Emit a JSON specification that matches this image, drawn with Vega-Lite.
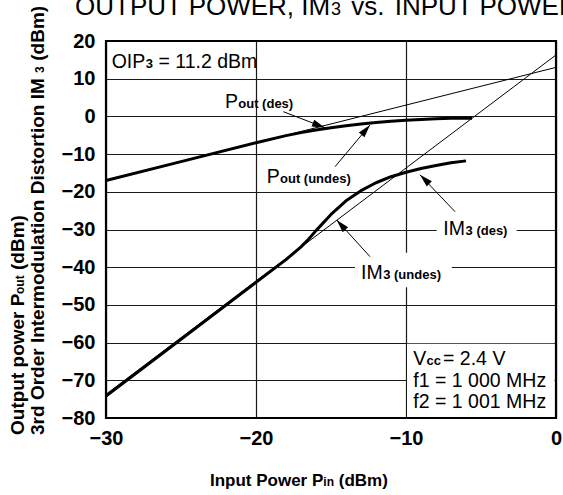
{
  "$schema": "https://vega.github.io/schema/vega-lite/v6.json",
  "width": 450,
  "height": 377,
  "autosize": {"type": "none"},
  "padding": {"left": 106, "top": 41, "right": 7, "bottom": 77},
  "background": "white",
  "config": {"view": {"stroke": null}, "font": "Liberation Sans"},
  "datasets": {
    "curves": [
      {"series": "Pout_lin", "x": -30, "y": -17},
      {"series": "Pout_lin", "x": 0, "y": 13},
      {"series": "IM3_lin", "x": -30, "y": -73.7},
      {"series": "IM3_lin", "x": 0, "y": 16.3},
      {"series": "Pout", "x": -30, "y": -17},
      {"series": "Pout", "x": -25, "y": -12},
      {"series": "Pout", "x": -20, "y": -7},
      {"series": "Pout", "x": -18, "y": -5.1},
      {"series": "Pout", "x": -17, "y": -4.3},
      {"series": "Pout", "x": -16, "y": -3.6},
      {"series": "Pout", "x": -15, "y": -3.0},
      {"series": "Pout", "x": -14, "y": -2.5},
      {"series": "Pout", "x": -13, "y": -2.0},
      {"series": "Pout", "x": -12, "y": -1.6},
      {"series": "Pout", "x": -11, "y": -1.3},
      {"series": "Pout", "x": -10, "y": -1.0},
      {"series": "Pout", "x": -9, "y": -0.8},
      {"series": "Pout", "x": -8, "y": -0.6},
      {"series": "Pout", "x": -7, "y": -0.5},
      {"series": "Pout", "x": -5.6, "y": -0.5},
      {"series": "IM3", "x": -30, "y": -74.2},
      {"series": "IM3", "x": -25, "y": -59.1},
      {"series": "IM3", "x": -20, "y": -44},
      {"series": "IM3", "x": -18, "y": -38},
      {"series": "IM3", "x": -17, "y": -34.6},
      {"series": "IM3", "x": -16.5, "y": -32.6},
      {"series": "IM3", "x": -16, "y": -30.3},
      {"series": "IM3", "x": -15, "y": -26},
      {"series": "IM3", "x": -14, "y": -22.4},
      {"series": "IM3", "x": -13, "y": -19.7},
      {"series": "IM3", "x": -12, "y": -17.6},
      {"series": "IM3", "x": -11, "y": -16},
      {"series": "IM3", "x": -10, "y": -14.8},
      {"series": "IM3", "x": -9, "y": -13.8},
      {"series": "IM3", "x": -8, "y": -13},
      {"series": "IM3", "x": -7, "y": -12.3},
      {"series": "IM3", "x": -6, "y": -11.8}
    ],
    "arrows": [
      {"name": "pout_des", "x": -18.18, "y": 1.25, "x2": -15.4, "y2": -3.0},
      {"name": "pout_undes", "x": -14.73, "y": -13.34, "x2": -12.4, "y2": -2.27},
      {"name": "im3_des", "x": -6.73, "y": -25.28, "x2": -9.07, "y2": -15.5},
      {"name": "im3_undes", "x": -12.4, "y": -37.2, "x2": -14.62, "y2": -27.5}
    ],
    "boxes": [
      {"x": -7.95, "x2": -2.62, "y": -28, "y2": -33.3},
      {"x": -13.4, "x2": -6.95, "y": -36.2, "y2": -45.3},
      {"x": -9.93, "x2": -0.1, "y": -60.28, "y2": -79.7}
    ],
    "frame": [{"x": -30, "x2": 0, "y": -80, "y2": 20}],
    "labels": [
      {"kind": "title", "x": -32.067, "y": 26.9, "t": "OUTPUT POWER, IM"},
      {"kind": "title", "x": -13.65, "y": 26.9, "t": "vs."},
      {"kind": "title", "x": -10.75, "y": 26.9, "t": "INPUT POWER"},
      {"kind": "titleSub", "x": -15.0, "y": 26.9, "t": "3"},
      {"kind": "big", "x": -29.62, "y": 12.76, "t": "OIP"},
      {"kind": "big", "x": -26.5, "y": 12.76, "t": "= 11.2 dBm"},
      {"kind": "big", "x": -22.07, "y": 2.3, "t": "P"},
      {"kind": "big", "x": -19.29, "y": -17.75, "t": "P"},
      {"kind": "big", "x": -7.51, "y": -31.5, "t": "IM"},
      {"kind": "big", "x": -13.0, "y": -43.2, "t": "IM"},
      {"kind": "big", "x": -9.51, "y": -65.94, "t": "V"},
      {"kind": "big", "x": -7.53, "y": -65.94, "t": "= 2.4 V"},
      {"kind": "big", "x": -9.51, "y": -71.7, "t": "f1 = 1 000 MHz"},
      {"kind": "big", "x": -9.51, "y": -77.43, "t": "f2 = 1 001 MHz"},
      {"kind": "small", "x": -27.35, "y": 12.76, "t": "3"},
      {"kind": "small", "x": -21.18, "y": 2.3, "t": "out (des)"},
      {"kind": "small", "x": -18.4, "y": -17.75, "t": "out (undes)"},
      {"kind": "small", "x": -6.03, "y": -31.5, "t": "3 (des)"},
      {"kind": "small", "x": -11.52, "y": -43.2, "t": "3 (undes)"},
      {"kind": "small", "x": -8.63, "y": -65.94, "t": "cc"},
      {"kind": "ytitle", "x": -35.5, "y": -84.5, "t": "Output power  P"},
      {"kind": "ytitle", "x": -35.5, "y": -40.74, "t": "(dBm)"},
      {"kind": "ytitle", "x": -34.15, "y": -84.5, "t": "3rd Order Intermodulation Distortion  IM"},
      {"kind": "ytitle", "x": -34.15, "y": 14.77, "t": "(dBm)"},
      {"kind": "ytitleSub", "x": -35.5, "y": -47.1, "t": "out"},
      {"kind": "ytitleSub", "x": -34.15, "y": 11.51, "t": "3"},
      {"kind": "xtitle", "x": -23.07, "y": -98.04, "t": "Input Power  P"},
      {"kind": "xtitle", "x": -14.48, "y": -98.04, "t": "(dBm)"},
      {"kind": "xtitleSub", "x": -15.51, "y": -98.04, "t": "in"}
    ]
  },
  "encoding": {
    "x": {
      "field": "x", "type": "quantitative", "title": null,
      "scale": {"domain": [-30, 0], "nice": false, "zero": false},
      "axis": {
        "values": [-30, -20, -10, 0], "grid": true, "ticks": false, "domain": false,
        "labelFont": "Liberation Sans", "labelFontWeight": "bold", "labelFontSize": 20,
        "labelColor": "black", "labelPadding": 10, "labelFlush": false, "labelOverlap": false,
        "gridColor": "#1a1a1a", "gridOpacity": 1, "gridWidth": 1.2
      }
    },
    "y": {
      "field": "y", "type": "quantitative", "title": null,
      "scale": {"domain": [-80, 20], "nice": false, "zero": false},
      "axis": {
        "values": [-80, -70, -60, -50, -40, -30, -20, -10, 0, 10, 20], "grid": true, "ticks": false, "domain": false,
        "labelFont": "Liberation Sans", "labelFontWeight": "bold", "labelFontSize": 20,
        "labelColor": "black", "labelPadding": 11, "labelFlush": false, "labelOverlap": false,
        "gridColor": "#1a1a1a", "gridOpacity": 1, "gridWidth": 1.2
      }
    }
  },
  "layer": [
    {
      "data": {"name": "curves"},
      "transform": [{"filter": "datum.series == 'Pout_lin' || datum.series == 'IM3_lin'"}],
      "mark": {"type": "line", "color": "black", "strokeWidth": 1},
      "encoding": {"detail": {"field": "series", "type": "nominal"}}
    },
    {
      "data": {"name": "curves"},
      "transform": [{"filter": "datum.series == 'Pout' || datum.series == 'IM3'"}],
      "mark": {"type": "line", "color": "black", "strokeWidth": 3, "strokeCap": "butt", "strokeJoin": "round"},
      "encoding": {"detail": {"field": "series", "type": "nominal"}}
    },
    {
      "data": {"name": "boxes"},
      "mark": {"type": "rect", "fill": "white", "stroke": null},
      "encoding": {"x2": {"field": "x2"}, "y2": {"field": "y2"}}
    },
    {
      "data": {"name": "arrows"},
      "mark": {"type": "rule", "color": "black", "strokeWidth": 1},
      "encoding": {"x2": {"field": "x2"}, "y2": {"field": "y2"}}
    },
    {
      "data": {"name": "arrows"},
      "transform": [{"filter": "datum.name == 'pout_des'"}],
      "mark": {"type": "point", "shape": "M0,0L-0.28,1L0.28,1Z", "filled": true, "color": "black", "opacity": 1, "size": 676, "angle": 111},
      "encoding": {"x": {"field": "x2", "type": "quantitative"}, "y": {"field": "y2", "type": "quantitative"}}
    },
    {
      "data": {"name": "arrows"},
      "transform": [{"filter": "datum.name == 'pout_undes'"}],
      "mark": {"type": "point", "shape": "M0,0L-0.28,1L0.28,1Z", "filled": true, "color": "black", "opacity": 1, "size": 676, "angle": 40},
      "encoding": {"x": {"field": "x2", "type": "quantitative"}, "y": {"field": "y2", "type": "quantitative"}}
    },
    {
      "data": {"name": "arrows"},
      "transform": [{"filter": "datum.name == 'im3_des'"}],
      "mark": {"type": "point", "shape": "M0,0L-0.28,1L0.28,1Z", "filled": true, "color": "black", "opacity": 1, "size": 676, "angle": 314},
      "encoding": {"x": {"field": "x2", "type": "quantitative"}, "y": {"field": "y2", "type": "quantitative"}}
    },
    {
      "data": {"name": "arrows"},
      "transform": [{"filter": "datum.name == 'im3_undes'"}],
      "mark": {"type": "point", "shape": "M0,0L-0.28,1L0.28,1Z", "filled": true, "color": "black", "opacity": 1, "size": 676, "angle": 318},
      "encoding": {"x": {"field": "x2", "type": "quantitative"}, "y": {"field": "y2", "type": "quantitative"}}
    },
    {
      "data": {"name": "labels"},
      "transform": [{"filter": "datum.kind == 'big'"}],
      "mark": {"type": "text", "align": "left", "baseline": "alphabetic", "font": "Liberation Sans", "fontSize": 19.5, "color": "black"},
      "encoding": {"text": {"field": "t"}}
    },
    {
      "data": {"name": "labels"},
      "transform": [{"filter": "datum.kind == 'small'"}],
      "mark": {"type": "text", "align": "left", "baseline": "alphabetic", "font": "Liberation Sans", "fontSize": 13, "fontWeight": "bold", "color": "black"},
      "encoding": {"text": {"field": "t"}}
    },
    {
      "data": {"name": "labels"},
      "transform": [{"filter": "datum.kind == 'title'"}],
      "mark": {"type": "text", "align": "left", "baseline": "alphabetic", "font": "Liberation Sans", "fontSize": 26, "color": "black"},
      "encoding": {"text": {"field": "t"}}
    },
    {
      "data": {"name": "labels"},
      "transform": [{"filter": "datum.kind == 'titleSub'"}],
      "mark": {"type": "text", "align": "left", "baseline": "alphabetic", "font": "Liberation Sans", "fontSize": 18, "color": "black"},
      "encoding": {"text": {"field": "t"}}
    },
    {
      "data": {"name": "labels"},
      "transform": [{"filter": "datum.kind == 'ytitle'"}],
      "mark": {"type": "text", "align": "left", "baseline": "alphabetic", "angle": 270, "font": "Liberation Sans", "fontSize": 19, "fontWeight": "bold", "color": "black"},
      "encoding": {"text": {"field": "t"}}
    },
    {
      "data": {"name": "labels"},
      "transform": [{"filter": "datum.kind == 'ytitleSub'"}],
      "mark": {"type": "text", "align": "left", "baseline": "alphabetic", "angle": 270, "font": "Liberation Sans", "fontSize": 12, "fontWeight": "bold", "color": "black"},
      "encoding": {"text": {"field": "t"}}
    },
    {
      "data": {"name": "labels"},
      "transform": [{"filter": "datum.kind == 'xtitle'"}],
      "mark": {"type": "text", "align": "left", "baseline": "alphabetic", "font": "Liberation Sans", "fontSize": 17, "fontWeight": "bold", "color": "black"},
      "encoding": {"text": {"field": "t"}}
    },
    {
      "data": {"name": "labels"},
      "transform": [{"filter": "datum.kind == 'xtitleSub'"}],
      "mark": {"type": "text", "align": "left", "baseline": "alphabetic", "font": "Liberation Sans", "fontSize": 12, "fontWeight": "bold", "color": "black"},
      "encoding": {"text": {"field": "t"}}
    },
    {
      "data": {"name": "frame"},
      "mark": {"type": "rect", "fill": null, "fillOpacity": 0, "stroke": "black", "strokeWidth": 2.2},
      "encoding": {"x2": {"field": "x2"}, "y2": {"field": "y2"}}
    }
  ]
}
